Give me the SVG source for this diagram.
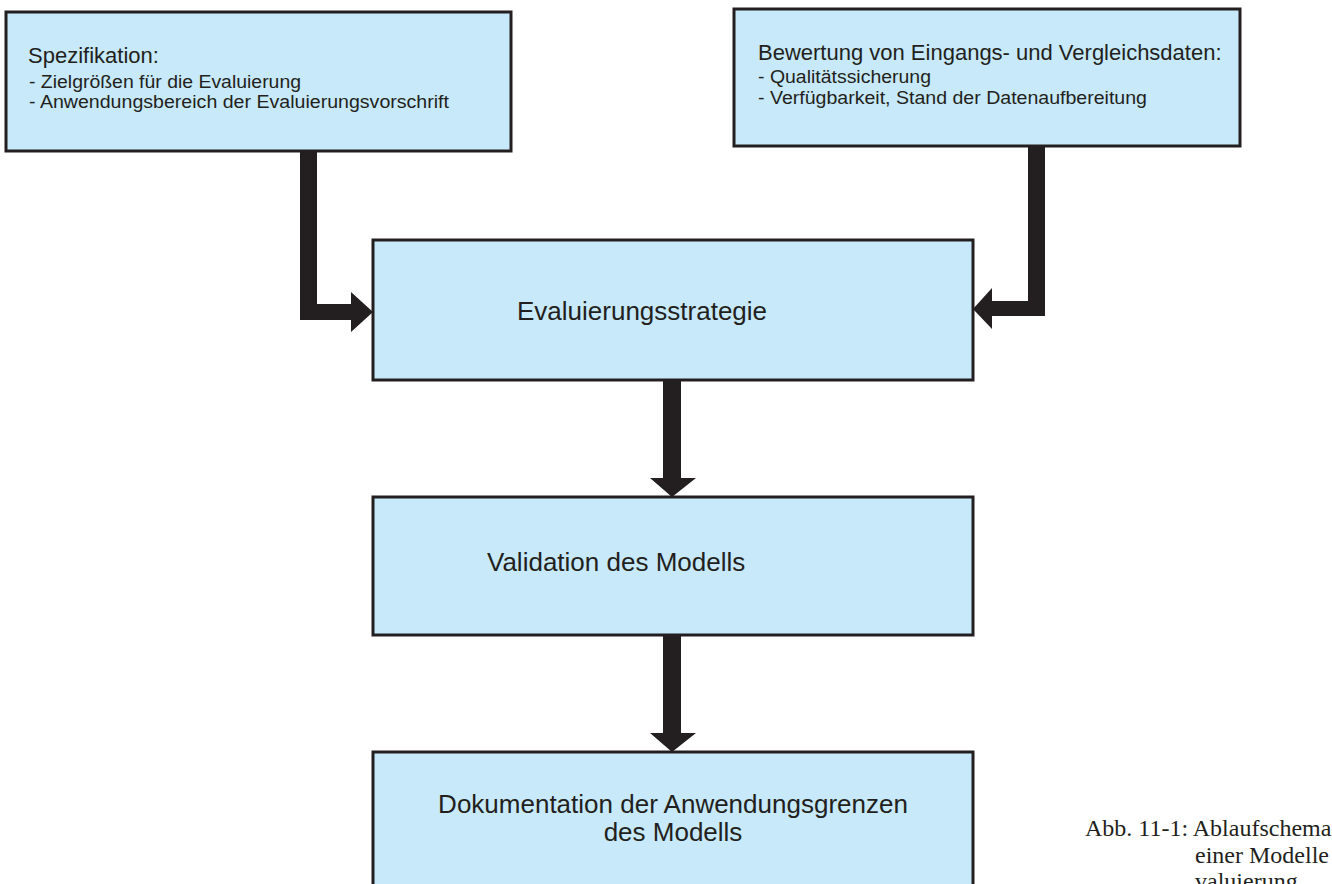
<svg xmlns="http://www.w3.org/2000/svg" width="1332" height="884" viewBox="0 0 1332 884">
<style>
.box{fill:#c7e9f9;stroke:#231f20;stroke-width:3}
.t{font-family:"Liberation Sans",Arial,sans-serif;fill:#231f20}
.h{font-size:22px}
.s{font-size:17.5px}
.c{font-size:26px}
.cap{font-family:"Liberation Serif","Times New Roman",serif;font-size:24px;fill:#231f20}
.arr{fill:#231f20;stroke:none}
</style>
<rect width="1332" height="884" fill="#ffffff"/>
<g id="connectors">
<path class="arr" d="M300,151 L317,151 L317,304 L351,304 L351,292 L373,312 L351,332 L351,320 L300,320 Z"/>
<path class="arr" d="M1028,146 L1045,146 L1045,316 L992,316 L992,329 L973,309 L992,288 L992,301 L1028,301 Z"/>
<path class="arr" d="M663,380 L681,380 L681,478 L696,478 L672,497 L650,478 L663,478 Z"/>
<path class="arr" d="M663,635 L681,635 L681,733 L696,733 L672,752 L650,733 L663,733 Z"/>
</g>
<g id="spezifikation">
<rect class="box" x="6" y="12" width="505" height="139"/>
<text class="t h" x="28" y="63">Spezifikation:</text>
<text class="t s" x="29" y="88" textLength="272" lengthAdjust="spacingAndGlyphs">- Zielgrößen für die Evaluierung</text>
<text class="t s" x="29" y="108" textLength="420" lengthAdjust="spacingAndGlyphs">- Anwendungsbereich der Evaluierungsvorschrift</text>
</g>
<g id="bewertung">
<rect class="box" x="734" y="9" width="506" height="137"/>
<text class="t h" x="758" y="60">Bewertung von Eingangs- und Vergleichsdaten:</text>
<text class="t s" x="758" y="83" textLength="173" lengthAdjust="spacingAndGlyphs">- Qualitätssicherung</text>
<text class="t s" x="758" y="104" textLength="389" lengthAdjust="spacingAndGlyphs">- Verfügbarkeit, Stand der Datenaufbereitung</text>
</g>
<g id="strategie">
<rect class="box" x="373" y="240" width="600" height="140"/>
<text class="t c" x="517" y="320">Evaluierungsstrategie</text>
</g>
<g id="validation">
<rect class="box" x="373" y="497" width="600" height="138"/>
<text class="t c" x="487" y="571">Validation des Modells</text>
</g>
<g id="dokumentation">
<rect class="box" x="373" y="752" width="600" height="145"/>
<text class="t c" x="673" y="813" text-anchor="middle">Dokumentation der Anwendungsgrenzen</text>
<text class="t c" x="673" y="841" text-anchor="middle">des Modells</text>
</g>
<g id="caption">
<text class="cap" x="1085" y="836">Abb. 11-1: Ablaufschema</text>
<text class="cap" x="1195" y="863">einer Modelle</text>
<text class="cap" x="1195" y="889">valuierung</text>
</g>
</svg>
